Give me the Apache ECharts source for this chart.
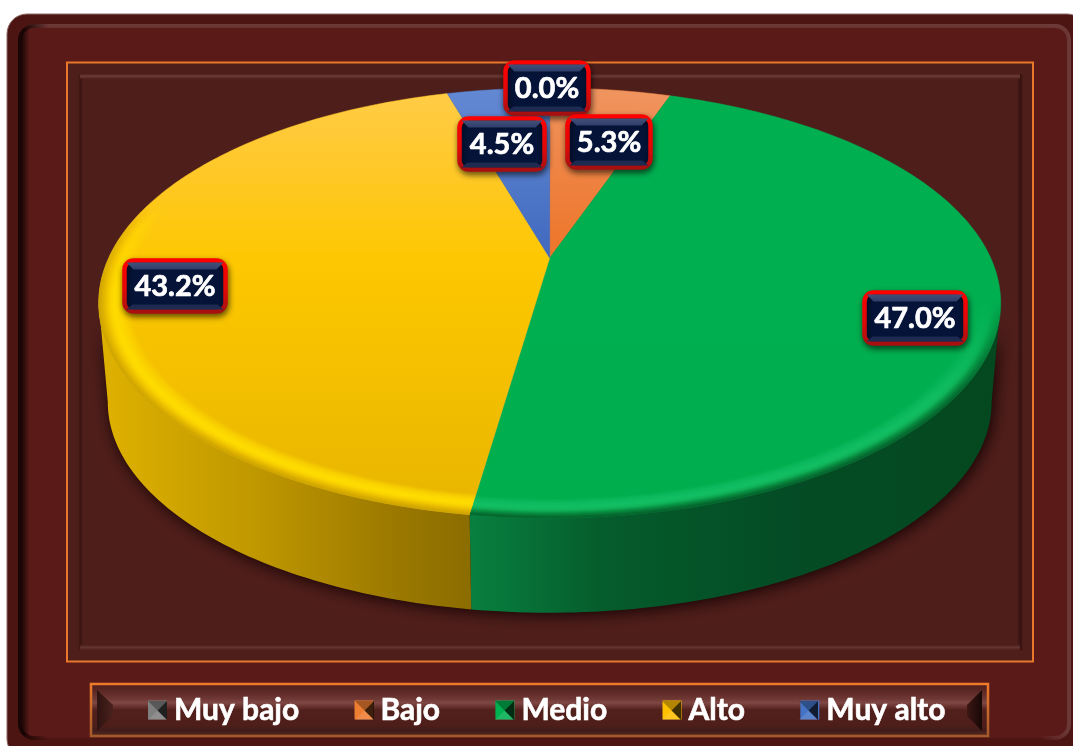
<!DOCTYPE html>
<html><head><meta charset="utf-8">
<style>html,body{margin:0;padding:0;background:#fff}#c{width:1073px;height:746px}</style>
<script src="https://cdn.jsdelivr.net/npm/echarts@6/dist/echarts.min.js"></script>
</head><body><div id="c"></div>
<script>
const categories = ['Muy bajo', 'Bajo', 'Medio', 'Alto', 'Muy alto'];
const percentages = [0.0, 5.3, 47.0, 43.2, 4.5];
const colors = ['#7F7F7F', '#ED7D31', '#00B050', '#FFC000', '#4472C4'];
const labelCenters = [[547, 88], [609, 142], [915, 318], [175, 286], [502, 144]];
const labelWidths = [83, 83, 101, 101, 85];
const legendIconX = [148, 355, 495, 662, 799];

const FONT = 'Lato, "Open Sans", sans-serif';
const P = {cx: 549.7, cy: 258, b: 441, a: 205.6, k: 0.209, wallDy: 100, wallScale: 0.98};
const topStops = [
  [[0, '#7F7F7F'], [1, '#7F7F7F']],
  [[0, '#F09560'], [0.18, '#EF8444'], [0.4, '#ED7528'], [1, '#ED7528']],
  [[0, '#00B050'], [1, '#00AE4E']],
  [[0, '#FFCC48'], [0.2, '#FFC826'], [0.4, '#FDC800'], [1, '#E8B500']],
  [[0, '#6489D3'], [0.2, '#527AC9'], [0.4, '#3F68BF'], [1, '#3F68BF']]
];
const wallStops = [
  null, null,
  {x: 473, x2: 993, s: [[0, '#087F3E'], [0.25, '#055C2C'], [0.6, '#044C25'], [1, '#04481F']]},
  {x: 108, x2: 473, s: [[0, '#DDB000'], [0.4, '#C09800'], [0.8, '#9A7800'], [1, '#8A6C00']]},
  null
];
// radius on the disc, colour and opacity of the soft bevel at the disc's edge
const rimBands = {
  2: {from: 300, to: 400, b: [[.94, '#14C066', 0], [.968, '#14C066', .7], [.978, '#10B45A', .9], [.988, '#078C40', 1], [1, '#05622C', 1]]},
  3: {from: 205, to: 300, b: [[.935, '#FFDD00', 0], [.968, '#FFDD00', .95], [.978, '#F8D000', 1], [.99, '#E2B500', 1], [1, '#CDA300', 1]]}
};
const RIM_STEPS = 26;

function project(deg, r) {
  const t = deg * Math.PI / 180, x = r * Math.sin(t), y = -r * Math.cos(t), w = 1 - P.k * y;
  return [P.cx + P.b * x / w, P.cy + P.a * y / w];
}
function projectBottom(deg) {
  const p = project(deg, 1);
  return [P.cx + (p[0] - P.cx) * P.wallScale, P.cy + P.wallDy + (p[1] - P.cy) * P.wallScale];
}
function arc(a0, a1, f) {
  const pts = [], n = Math.max(2, Math.ceil(Math.abs(a1 - a0)));
  for (let i = 0; i <= n; i++) pts.push(f(a0 + (a1 - a0) * i / n));
  return pts;
}
const total = percentages.reduce((s, v) => s + v, 0);
const SIL0 = 102, SIL1 = 258;

function linear(x, y, x2, y2, s) {
  return {type: 'linear', global: true, x, y, x2, y2, colorStops: s.map(d => ({offset: d[0], color: d[1]}))};
}
function rimSample(b, r) {
  for (let i = 1; i < b.length; i++) {
    if (r <= b[i][0]) {
      const f = (r - b[i - 1][0]) / (b[i][0] - b[i - 1][0]);
      return [echarts.color.lerp(f, [b[i - 1][1], b[i][1]]), b[i - 1][2] + (b[i][2] - b[i - 1][2]) * f];
    }
  }
  return [b[b.length - 1][1], b[b.length - 1][2]];
}

function labelGroup(i, text) {
  const [cx, cy] = labelCenters[i], w = labelWidths[i], h = 51;
  const l = cx - w / 2, t = cy - h / 2, r = cx + w / 2, b = cy + h / 2;
  return [
    {type: 'rect', z2: 60, shape: {x: l, y: t, width: w, height: h, r: 9},
      style: {fill: '#041337', lineWidth: 4.5,
        stroke: linear(0, t, 0, b, [[0, '#FF0000'], [0.6, '#E00808'], [1, '#A81010']]),
        shadowBlur: 6, shadowOffsetX: 1, shadowOffsetY: 3, shadowColor: 'rgba(0,0,0,0.55)'}},
    {type: 'polygon', z2: 61, shape: {points: [[l + 2, t + 2], [r - 2, t + 2], [r - 9, t + 9], [l + 9, t + 9]]},
      style: {fill: linear(0, t, 0, t + 9, [[0, '#47567E'], [1, '#2E3E68']])}},
    {type: 'polygon', z2: 61, shape: {points: [[l + 2, b - 2], [r - 2, b - 2], [r - 8, b - 7], [l + 8, b - 7]]},
      style: {fill: '#1E2B50'}},
    {type: 'text', z2: 62, style: {x: cx, y: cy + 1, text, fill: '#fff', stroke: '#fff', lineWidth: 0.7,
      align: 'center', verticalAlign: 'middle', font: 'bold 29px ' + FONT}}
  ];
}

function makeRender(i) {
  return function (params, api) {
    const v = api.value(0);
    let before = 0;
    for (let j = 0; j < i; j++) before += percentages[j];
    const a0 = before / total * 360, a1 = (before + v) / total * 360;
    const children = [];
    if (v > 0) {
      const edge = arc(a0, a1, d => project(d, 1));
      children.push({type: 'polygon', z2: 3, shape: {points: [[P.cx, P.cy]].concat(edge)},
        style: {fill: linear(0, 88, 0, 520, topStops[i]), stroke: topStops[i][1][1], lineWidth: 0.5}});
      const w0 = Math.max(a0, SIL0), w1 = Math.min(a1, SIL1);
      if (w1 > w0 && wallStops[i]) {
        const top = arc(w0, w1, d => project(d, 1));
        const bot = arc(w1, w0, projectBottom);
        children.push({type: 'polygon', z2: 2, shape: {points: top.concat(bot)},
          style: {fill: linear(wallStops[i].x, 0, wallStops[i].x2, 0, wallStops[i].s)}});
      }
      const rim = rimBands[i];
      if (rim) {
        const r0 = rim.b[0][0], r1 = rim.b[rim.b.length - 1][0];
        for (let n = 1; n <= RIM_STEPS; n++) {
          const r = r0 + (r1 - r0) * n / RIM_STEPS - 0.0015;
          const [c, al] = rimSample(rim.b, r);
          children.push({type: 'polyline', z2: 4 + n, shape: {points: arc(a0, a1, d => project(d, r))},
            style: {fill: 'none', lineWidth: 1.8, stroke: linear(0, rim.from, 0, rim.to,
              [[0, echarts.color.modifyAlpha(c, 0)], [1, echarts.color.modifyAlpha(c, al)]])}});
        }
      }
    }
    return {type: 'group', children: children.concat(labelGroup(i, percentages[i].toFixed(1) + '%'))};
  };
}

const frame = [
  {type: 'rect', z: 0, shape: {x: 7, y: 14, width: 1080, height: 745, r: 20},
    style: {fill: '#4C1512', stroke: '#8E6A68', lineWidth: 1}},
  {type: 'rect', z: 0, shape: {x: 20, y: 26, width: 1049, height: 712, r: 14},
    style: {fill: '#5A1B18'}},
  {type: 'rect', z: 0, shape: {x: 20, y: 26, width: 1049, height: 712, r: 14},
    style: {fill: 'none', lineWidth: 4, stroke: linear(0, 22, 0, 34, [[0, '#6E3C3A'], [0.4, '#6A3634'], [1, 'rgba(90,27,24,0)']])}},
  {type: 'rect', z: 0, shape: {x: 20, y: 26, width: 1049, height: 712, r: 14},
    style: {fill: 'none', lineWidth: 4, stroke: linear(17, 0, 1072, 0, [[0, '#140403'], [0.006, '#1E0605'], [0.03, 'rgba(30,6,5,0)'], [0.97, 'rgba(110,60,58,0)'], [1, '#6E3C3A']])}},
  {type: 'rect', z: 0, shape: {x: 22, y: 29, width: 7, height: 706},
    style: {fill: linear(22, 0, 30, 0, [[0, 'rgba(20,4,3,0.85)'], [1, 'rgba(20,4,3,0)']])}},
  {type: 'rect', z: 0, shape: {x: 67, y: 62.5, width: 966, height: 599},
    style: {fill: '#4E1E1B', stroke: '#E8762B', lineWidth: 2}},
  {type: 'rect', z: 0, shape: {x: 78, y: 74, width: 5, height: 576},
    style: {fill: linear(78, 0, 83, 0, [[0, '#4E1E1B'], [0.5, '#391411'], [1, '#4E1E1B']])}},
  {type: 'rect', z: 0, shape: {x: 1017, y: 74, width: 6, height: 576},
    style: {fill: linear(1017, 0, 1023, 0, [[0, '#4E1E1B'], [0.6, '#331110'], [1, '#4E1E1B']])}},
  {type: 'rect', z: 0, shape: {x: 80, y: 74, width: 940, height: 5},
    style: {fill: linear(0, 74, 0, 79, [[0, '#4E1E1B'], [0.4, '#6B3C38'], [1, '#4E1E1B']])}},
  {type: 'rect', z: 0, shape: {x: 80, y: 645, width: 940, height: 5},
    style: {fill: linear(0, 645, 0, 650, [[0, '#4E1E1B'], [0.5, '#633531'], [1, '#4E1E1B']])}},
  {type: 'rect', z: 0, shape: {x: 91, y: 684, width: 897, height: 52},
    style: {fill: linear(0, 684, 0, 736, [[0, '#4E1E1B'], [0.12, '#5A2723'], [0.28, '#6E3733'], [0.36, '#7F4743'], [0.5, '#52201C'], [0.8, '#4E1E1B'], [0.9, '#3F1C19'], [1, '#5A2A24']]),
      stroke: linear(0, 683, 0, 737, [[0, '#F07A2A'], [1, '#A25A2A']]), lineWidth: 2.5}},
  {type: 'polygon', z: 0, shape: {points: [[97, 690], [113, 705], [113, 716], [97, 731]]},
    style: {fill: linear(97, 0, 113, 0, [[0, '#2E1310'], [1, '#4A211D']])}},
  {type: 'polygon', z: 0, shape: {points: [[982, 690], [967, 705], [967, 716], [982, 731]]},
    style: {fill: linear(967, 0, 982, 0, [[0, '#3C1714'], [1, '#170806']])}}
];
legendIconX.forEach(x => {
  const y = 701, s = 19, c = [x + s / 2, y + s / 2];
  const tri = (a, b, fill) => frame.push({type: 'polygon', z: 12, silent: true, shape: {points: [a, b, c]}, style: {fill}});
  tri([x, y], [x + s, y], 'rgba(0,0,0,0.3)');
  tri([x + s, y], [x + s, y + s], 'rgba(0,0,0,0.75)');
  tri([x, y + s], [x + s, y + s], 'rgba(255,255,255,0.12)');
});

const chart = echarts.init(document.getElementById('c'), null, {renderer: 'canvas', width: 1073, height: 746});
const series = categories.map((name, i) => ({
  type: 'custom', name, coordinateSystem: 'none', silent: true,
  itemStyle: {color: colors[i]},
  data: [{name, value: [percentages[i]]}],
  renderItem: makeRender(i)
}));
series.unshift({
  type: 'custom', name: 'sombra', coordinateSystem: 'none', silent: true,
  data: [{value: [total]}],
  renderItem: function () {
    const pts = arc(SIL0, SIL1, projectBottom).concat(arc(SIL1, SIL0, d => project(d, 1)));
    return {type: 'polygon', z2: 1, shape: {points: pts},
      style: {fill: '#2A0A08', shadowBlur: 16, shadowOffsetX: 2, shadowOffsetY: 2, shadowColor: 'rgba(15,0,0,0.95)'}};
  }
});
chart.setOption({
  animation: false,
  backgroundColor: '#ffffff',
  graphic: {elements: frame},
  legend: {
    data: categories, left: 148, top: 693, padding: 0,
    itemWidth: 19, itemHeight: 19, itemGap: 55, icon: 'rect', selectedMode: false,
    textStyle: {color: '#fff', fontFamily: FONT, fontWeight: 'bold', fontSize: 30, lineHeight: 34,
      textBorderColor: '#fff', textBorderWidth: 0.6, padding: [0, 0, 0, 2]}
  },
  series
});
</script></body></html>
